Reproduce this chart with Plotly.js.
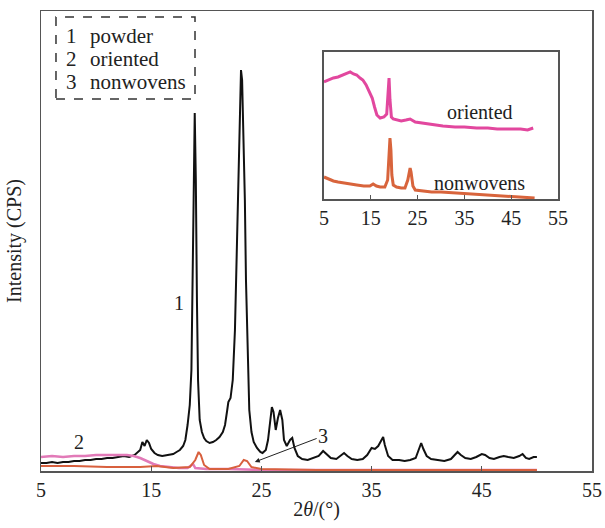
<!DOCTYPE html>
<html>
<head>
<meta charset="utf-8">
<script src="https://cdn.plot.ly/plotly-3.0.1.min.js"></script>
<style>html,body{margin:0;padding:0;background:#fff;}#chart{width:605px;height:528px;}</style>
</head>
<body>
<div id="chart"></div>
<script>
// ---- Main panel data (2θ in degrees, intensity in arbitrary CPS units) ----
const powderX = [5.0,5.5,6.0,6.5,7.0,7.5,8.0,8.5,9.0,9.5,10.0,10.5,11.0,11.5,12.0,12.5,13.0,13.5,14.0,14.2,14.4,14.6,14.8,15.0,15.3,15.6,16.0,16.5,17.0,17.3,17.6,17.9,18.1,18.3,18.5,18.65,18.75,18.85,18.95,19.05,19.15,19.25,19.4,19.6,19.8,20.0,20.3,20.6,20.9,21.2,21.5,21.7,21.9,22.0,22.2,22.4,22.6,22.75,22.9,23.0,23.1,23.15,23.25,23.35,23.5,23.6,23.75,23.9,24.1,24.3,24.6,24.9,25.1,25.4,25.6,25.8,25.95,26.1,26.3,26.5,26.7,26.9,27.05,27.3,27.6,27.8,28.0,28.3,28.7,29.2,29.7,30.2,30.6,30.9,31.3,31.8,32.2,32.5,32.8,33.2,33.7,34.2,34.6,35.0,35.3,35.6,35.9,36.05,36.2,36.5,36.9,37.5,38.0,38.5,39.0,39.3,39.5,39.7,40.0,40.4,41.0,41.6,42.2,42.6,42.8,43.1,43.5,44.0,44.5,45.0,45.3,45.7,46.1,46.6,47.0,47.4,47.9,48.4,48.7,49.0,49.3,49.7,50.0];
const powderY = [80,80,90,80,90,90,100,100,110,110,120,120,130,130,140,150,140,160,210,290,250,310,280,220,180,160,150,160,170,190,210,250,310,460,660,1010,1710,2710,3580,2910,1710,910,510,390,330,300,280,290,310,340,390,460,610,690,730,910,1410,2110,2910,3510,3860,4010,3910,3510,2710,1910,1110,610,390,290,230,190,180,210,310,510,640,590,410,530,610,510,310,250,310,330,230,150,120,110,130,150,200,170,130,120,160,180,150,120,110,120,160,230,220,250,310,340,260,150,110,110,100,110,130,210,280,220,150,120,110,100,120,160,190,160,130,120,140,170,160,130,120,140,150,140,130,150,170,130,120,140,140];

const orientedX = [5,6,7,8,9,10,11,12,12.8,13.4,14,14.6,15.2,15.8,16.5,17.5,18.3,18.8,19.0,20,22,25,30,40,50];
const orientedY = [140,150,140,150,150,160,160,160,160,150,130,100,70,50,40,30,30,70,30,20,20,10,10,10,10];

const nonwovensX = [5,8,11,14,15.5,17,18.5,19.0,19.3,19.5,19.8,20.3,22,23.0,23.4,23.7,24.1,25,30,40,50];
const nonwovensY = [50,50,40,40,50,30,40,110,190,160,60,20,20,50,110,100,40,20,10,10,10];

// ---- Inset data ----
const insetOrientedX = [5,6,7,8,9,10,10.6,11.3,12,12.7,13.3,14,14.7,15.3,15.8,16.3,17,17.8,18.4,18.7,18.9,19.1,19.4,19.8,20.5,21.5,22.5,23.4,24.5,26,28,30.4,33,35,37.6,40,42,44.7,47,48.5,49.7];
const insetOrientedY = [117,119,121,122,124,126,127,125,124,121,119,114,107,101,92,84,81,82,85,104,121,99,82,80,79,78,79,80,77,76,74,73,72,72,71,71,70,70,70,69,71];

const insetNonwovensX = [5,6,7,8,9.1,10.5,12,13.5,14.8,15.5,16.2,17,18,18.6,18.9,19.1,19.3,19.5,19.8,20.5,21.5,22.3,22.9,23.2,23.4,23.6,24.0,24.5,26,28,30,33,36,40,44,47,50];
const insetNonwovensY = [22,20,18,17,16,15,14,13,13,15,13,12,12,19,49,61,49,24,14,12,11,11,19,29,31,27,13,9,8,7,7,6,5,4,3,2,1];

const tickVals = [5,15,25,35,45,55];
const tickText = ['5','15','25','35','45','55'];
const legendNums = ['1','2','3'];
const legendNames = ['powder','oriented','nonwovens'];

const serif = 'Liberation Serif, Times New Roman, serif';
const frameColor = '#555555';
const txt = '#222';

const traces = [
  {x: powderX, y: powderY, type:'scatter', mode:'lines', line:{color:'#111111', width:2}, xaxis:'x', yaxis:'y', name:'powder'},
  {x: orientedX, y: orientedY, type:'scatter', mode:'lines', line:{color:'#e27ab8', width:2.5}, xaxis:'x', yaxis:'y', name:'oriented'},
  {x: nonwovensX, y: nonwovensY, type:'scatter', mode:'lines', line:{color:'#d8603e', width:2}, xaxis:'x', yaxis:'y', name:'nonwovens'},
  {x: insetOrientedX, y: insetOrientedY, type:'scatter', mode:'lines', line:{color:'#e2479e', width:3}, xaxis:'x2', yaxis:'y2', name:'oriented (inset)'},
  {x: insetNonwovensX, y: insetNonwovensY, type:'scatter', mode:'lines', line:{color:'#d8643c', width:3}, xaxis:'x2', yaxis:'y2', name:'nonwovens (inset)'}
];

const legendTop = 0.9457, legendStep = 0.05;
const annotations = [];
legendNums.forEach((n,i)=>{
  annotations.push({xref:'paper', yref:'paper', x:0.056, y:legendTop - i*legendStep, text:n, showarrow:false, xanchor:'center', yanchor:'middle', font:{family:serif, size:21, color:txt}});
  annotations.push({xref:'paper', yref:'paper', x:0.085, y:legendTop - i*legendStep, text:legendNames[i], showarrow:false, xanchor:'left', yanchor:'middle', font:{family:serif, size:21, color:txt}});
});
annotations.push({xref:'x', yref:'y', x:17.5, y:1680, text:'1', showarrow:false, font:{family:serif, size:20, color:txt}});
annotations.push({xref:'x', yref:'y', x:8.45, y:290, text:'2', showarrow:false, font:{family:serif, size:20, color:txt}});
annotations.push({xref:'x', yref:'y', x:24.4, y:90, axref:'x', ayref:'y', ax:30.6, ay:350, text:'3', showarrow:true, arrowhead:2, arrowsize:1, arrowwidth:1, arrowcolor:txt, font:{family:serif, size:20, color:txt}});
annotations.push({xref:'x2', yref:'y2', x:38.3, y:87, text:'oriented', showarrow:false, font:{family:serif, size:20, color:txt}});
annotations.push({xref:'x2', yref:'y2', x:38.3, y:16, text:'nonwovens', showarrow:false, font:{family:serif, size:20, color:txt}});

const layout = {
  width:605, height:528,
  margin:{l:41, r:13, t:11, b:57},
  paper_bgcolor:'#fff', plot_bgcolor:'#fff',
  showlegend:false,
  font:{family:serif, size:20, color:txt},
  xaxis:{range:[5,55], domain:[0,1], tickvals:tickVals, ticktext:tickText, ticks:'inside', ticklen:5, tickcolor:frameColor, showline:true, mirror:true, linecolor:frameColor, linewidth:1.5, showgrid:false, zeroline:false, tickfont:{family:serif, size:20, color:txt},
         title:{text:'2<i>θ</i>/(°)', font:{family:serif, size:20, color:txt}, standoff:2}},
  yaxis:{range:[0,4600], domain:[0,1], showticklabels:false, ticks:'', showline:true, mirror:true, linecolor:frameColor, linewidth:1.5, showgrid:false, zeroline:false,
         title:{text:'Intensity (CPS)', font:{family:serif, size:20, color:txt}, standoff:12}},
  xaxis2:{range:[5,55], domain:[0.5136,0.9383], anchor:'y2', tickvals:tickVals, ticktext:tickText, ticks:'inside', ticklen:4, tickcolor:frameColor, showline:true, mirror:true, linecolor:frameColor, linewidth:1.5, showgrid:false, zeroline:false, tickfont:{family:serif, size:20, color:txt}},
  yaxis2:{range:[0,147], domain:[0.5913,0.9109], anchor:'x2', showticklabels:false, ticks:'', showline:true, mirror:true, linecolor:frameColor, linewidth:1.5, showgrid:false, zeroline:false},
  shapes:[
    {type:'rect', xref:'paper', yref:'paper', x0:0.5136, x1:0.9383, y0:0.5913, y1:0.9109, fillcolor:'#fff', line:{width:0}, layer:'below'},
    {type:'rect', xref:'paper', yref:'paper', x0:0.0272, x1:0.2795, y0:0.8087, y1:0.987, line:{color:'#333', width:1.5, dash:'dash'}, fillcolor:'rgba(0,0,0,0)'}
  ],
  annotations: annotations
};

Plotly.newPlot('chart', traces, layout, {displayModeBar:false, staticPlot:true});
</script>
</body>
</html>
